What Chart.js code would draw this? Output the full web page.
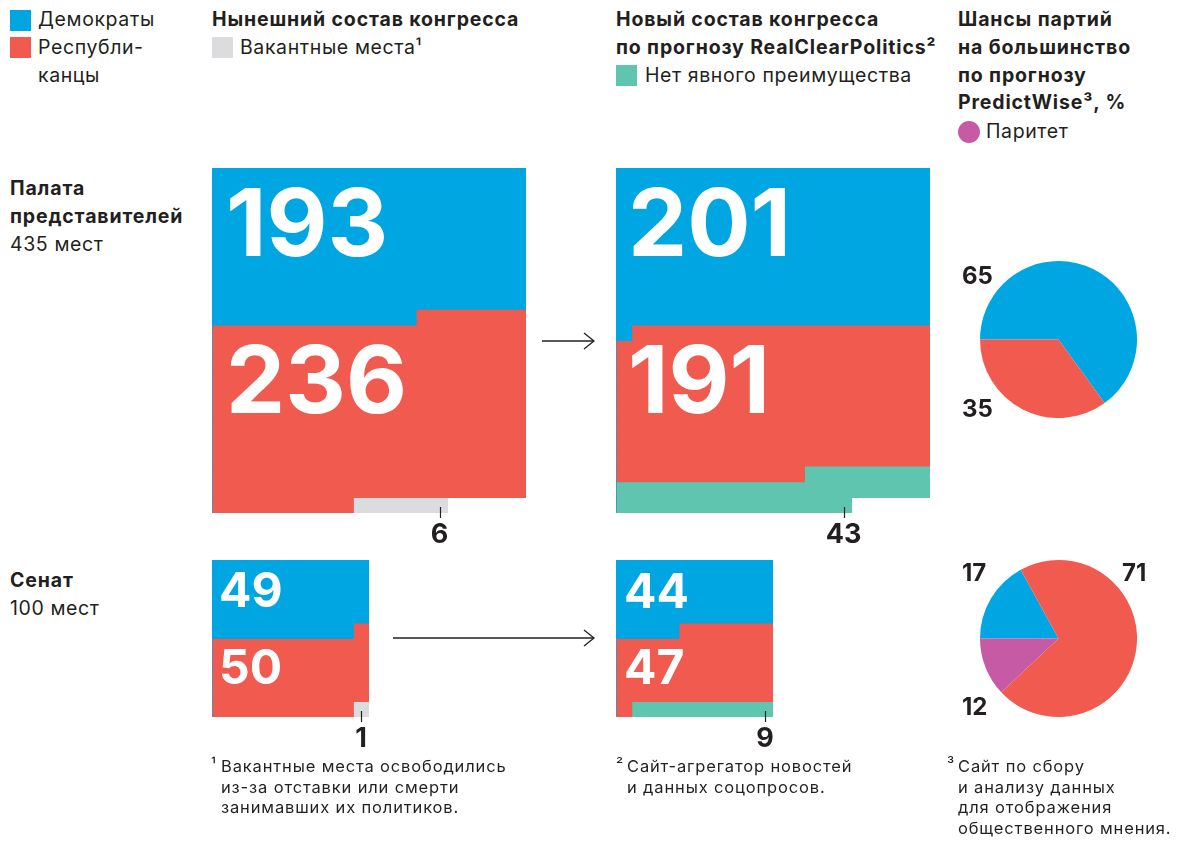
<!DOCTYPE html>
<html lang="ru">
<head>
<meta charset="UTF-8">
<title>Состав конгресса США</title>
<script src="https://cdn.jsdelivr.net/npm/chart.js@4"></script>
<style>
    body { margin: 0; background: #fff; font-family: Inter, 'Noto Sans', sans-serif; color: #231f20; }
    #page { position: relative; width: 1179px; height: 841px; overflow: hidden; }
    .abs { position: absolute; white-space: nowrap; }
    .t { font-size: 19.5px; line-height: 27.8px; letter-spacing: 0.6px; }
    .t b, .b { font-weight: 700; letter-spacing: 0.85px; }
    .sw { position: absolute; width: 21px; height: 21px; }
    .big { position: absolute; color: #fff; font-weight: 700; line-height: 1; white-space: nowrap; }
    .num { position: absolute; font-weight: 700; line-height: 1; transform: translateX(-50%); white-space: nowrap; }
    .fn { font-size: 16.5px; line-height: 20.5px; letter-spacing: 0.85px; }
    .sup { font-size: 16px; line-height: 20.5px; }
    .box { position: absolute; }
</style>
</head>
<body>
<div id="page">
    <!-- легенда -->
    <div class="sw" style="left:10px;top:10px;background:#00a6e2"></div>
    <div class="sw" style="left:10px;top:37px;background:#f15b4f"></div>
    <div class="abs t" style="left:38px;top:6px">Демократы<br>Республи-<br>канцы</div>

    <div class="abs t b" style="left:212px;top:6px">Нынешний состав конгресса</div>
    <div class="sw" style="left:212px;top:37px;background:#dcdcde"></div>
    <div class="abs t" style="left:240px;top:34px">Вакантные места¹</div>

    <div class="abs t b" style="left:616px;top:6px">Новый состав конгресса<br>по прогнозу RealClearPolitics²</div>
    <div class="sw" style="left:616px;top:65px;background:#5fc5ae"></div>
    <div class="abs t" style="left:645px;top:62px">Нет явного преимущества</div>

    <div class="abs t b" style="left:958px;top:6px">Шансы партий<br>на большинство<br>по прогнозу<br>PredictWise³, %</div>
    <div class="sw" style="left:958px;top:121px;width:22px;height:22px;border-radius:50%;background:#c65aa4"></div>
    <div class="abs t" style="left:986px;top:118px">Паритет</div>

    <!-- подписи строк -->
    <div class="abs t" style="left:10px;top:175px"><b>Палата<br>представителей</b><br>435 мест</div>
    <div class="abs t" style="left:10px;top:567px"><b>Сенат</b><br>100 мест</div>

    <!-- графики -->
    <div class="box" style="left:212px;top:168px"><canvas id="houseNow" width="314" height="353"></canvas></div>
    <div class="box" style="left:616px;top:168px"><canvas id="houseNew" width="314" height="353"></canvas></div>
    <div class="box" style="left:212px;top:560px"><canvas id="senateNow" width="157" height="165"></canvas></div>
    <div class="box" style="left:616px;top:560px"><canvas id="senateNew" width="157" height="165"></canvas></div>
    <div class="box" style="left:980px;top:261px"><canvas id="houseOdds" width="157" height="157"></canvas></div>
    <div class="box" style="left:980px;top:560px"><canvas id="senateOdds" width="157" height="157"></canvas></div>

    <!-- стрелки -->
    <svg class="box" style="left:0;top:0" width="1179" height="841">
        <g stroke="#231f20" stroke-width="1.3" fill="none">
            <line x1="542" y1="341" x2="594" y2="341"/>
            <polyline points="584,333 594,341 584,349"/>
            <line x1="393" y1="638" x2="594" y2="638"/>
            <polyline points="584,630 594,638 584,646"/>
        </g>
    </svg>

    <div id="labels"></div>

    <!-- сноски -->
    <div class="abs sup" style="left:211px;top:754px">¹</div>
    <div class="abs fn" style="left:221px;top:756px">Вакантные места освободились<br>из-за отставки или смерти<br>занимавших их политиков.</div>
    <div class="abs sup" style="left:616px;top:754px">²</div>
    <div class="abs fn" style="left:627px;top:756px">Сайт-агрегатор новостей<br>и данных соцопросов.</div>
    <div class="abs sup" style="left:947px;top:754px">³</div>
    <div class="abs fn" style="left:958px;top:756px">Сайт по сбору<br>и анализу данных<br>для отображения<br>общественного мнения.</div>
</div>

<script>
    // данные: места (демократы, республиканцы, вакантные / без явного преимущества)
    const houseNow = [193, 236, 6];
    const houseNew = [201, 191, 43];
    const senateNow = [49, 50, 1];
    const senateNew = [44, 47, 9];
    // шансы на большинство, %
    const houseOdds = [65, 35];            // демократы, республиканцы
    const senateOdds = [17, 71, 12];       // демократы, республиканцы, паритет

    const BLUE = '#00a6e2', RED = '#f15b4f', GRAY = '#dcdcde', TEAL = '#5fc5ae', PURPLE = '#c65aa4';

    const labelsBox = document.getElementById('labels');
    function addLabel(cls, text, left, top, size) {
        const d = document.createElement('div');
        d.className = cls;
        d.textContent = text;
        d.style.left = left + 'px';
        d.style.top = top + 'px';
        d.style.fontSize = size + 'px';
        labelsBox.appendChild(d);
        return d;
    }

    // сколько мест каждой группы попадает в каждую строку сетки
    function rowCounts(values, cols) {
        const total = values.reduce((a, b) => a + b, 0);
        const rows = Math.ceil(total / cols);
        let start = 0;
        return values.map(v => {
            const end = start + v;
            const out = [];
            for (let r = 0; r < rows; r++) {
                out.push(Math.max(0, Math.min(end, (r + 1) * cols) - Math.max(start, r * cols)));
            }
            start = end;
            return out;
        });
    }

    // засечка под последним местом + подпись числа
    const lastSeatMark = {
        id: 'lastSeatMark',
        afterDraw(chart, args, opts) {
            const { ctx, chartArea } = chart;
            const x = chart.scales.x.getPixelForValue(opts.col + 0.5);
            ctx.save();
            ctx.strokeStyle = '#231f20';
            ctx.lineWidth = 1.2;
            ctx.beginPath();
            ctx.moveTo(Math.round(x) + 0.5, chartArea.bottom - 6);
            ctx.lineTo(Math.round(x) + 0.5, chartArea.bottom + 5);
            ctx.stroke();
            ctx.restore();
            if (!opts.placed) {
                opts.placed = true;
                const box = chart.canvas.parentNode;
                addLabel('num', opts.text, box.offsetLeft + x, box.offsetTop + chartArea.bottom + opts.dy, opts.size);
            }
        }
    };

    function waffle(id, values, cols, colors, labelSize, dy) {
        const counts = rowCounts(values, cols);
        const rows = counts[0].map((_, i) => String(i));
        const total = values.reduce((a, b) => a + b, 0);
        return new Chart(document.getElementById(id), {
            type: 'bar',
            data: {
                labels: rows,
                datasets: counts.map((c, i) => ({
                    data: c,
                    backgroundColor: colors[i],
                    borderWidth: 0,
                    inflateAmount: 0.6,
                    barPercentage: 1,
                    categoryPercentage: 1
                }))
            },
            options: {
                indexAxis: 'y',
                responsive: false,
                animation: false,
                events: [],
                layout: { padding: { bottom: 8 } },
                plugins: {
                    legend: { display: false },
                    tooltip: { enabled: false },
                    lastSeatMark: { col: (total - 1) % cols, text: String(values[2]), size: labelSize, dy: dy }
                },
                scales: {
                    x: { stacked: true, min: 0, max: cols, display: false },
                    y: { stacked: true, display: false }
                }
            },
            plugins: [lastSeatMark]
        });
    }

    waffle('houseNow', houseNow, 20, [BLUE, RED, GRAY], 27, 7);
    waffle('houseNew', houseNew, 20, [BLUE, RED, TEAL], 27, 7);
    waffle('senateNow', senateNow, 10, [BLUE, RED, GRAY], 27, 7);
    waffle('senateNew', senateNew, 10, [BLUE, RED, TEAL], 27, 7);

    // крупные числа внутри блоков
    addLabel('big', String(houseNow[0]), 226, 175, 94);
    addLabel('big', String(houseNow[1]), 226, 332, 94);
    addLabel('big', String(houseNew[0]), 628, 175, 94);
    addLabel('big', String(houseNew[1]), 628, 332, 94);
    addLabel('big', String(senateNow[0]), 219, 566, 48);
    addLabel('big', String(senateNow[1]), 219, 643, 48);
    addLabel('big', String(senateNew[0]), 624, 567, 48);
    addLabel('big', String(senateNew[1]), 624, 643, 48);

    function pie(id, values, colors) {
        return new Chart(document.getElementById(id), {
            type: 'pie',
            data: {
                labels: values.map(String),
                datasets: [{ data: values, backgroundColor: colors, borderWidth: 0, hoverOffset: 0 }]
            },
            options: {
                responsive: false,
                animation: false,
                events: [],
                rotation: -90,
                plugins: { legend: { display: false }, tooltip: { enabled: false } }
            }
        });
    }

    pie('houseOdds', houseOdds, [BLUE, RED]);
    pie('senateOdds', senateOdds, [BLUE, RED, PURPLE]);

    // подписи процентов у кругов
    const pl = (t, l, tp) => { const d = addLabel('num', t, l, tp, 24); d.style.transform = 'none'; };
    pl(String(houseOdds[0]), 962, 264);
    pl(String(houseOdds[1]), 962, 397);
    pl(String(senateOdds[0]), 962, 561);
    pl(String(senateOdds[1]), 1122, 561);
    pl(String(senateOdds[2]), 962, 695);
</script>
</body>
</html>
